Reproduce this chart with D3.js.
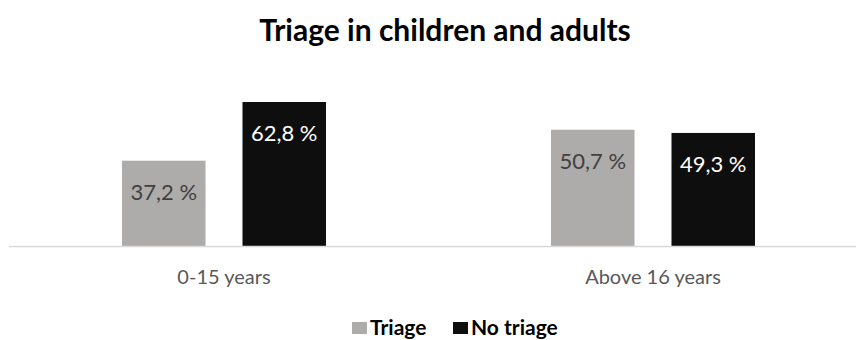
<!DOCTYPE html>
<html>
<head>
<meta charset="utf-8">
<script src="https://cdn.jsdelivr.net/npm/d3@7"></script>
<style>
  body { margin: 0; background: #fff; }
  text { font-family: Lato, "Open Sans", sans-serif; }
</style>
</head>
<body>
<div id="vis"></div>
<script>
// data
var categories = ["0-15 years", "Above 16 years"];
var series = ["Triage", "No triage"];
var triageValues = [37.2, 50.7];
var noTriageValues = [62.8, 49.3];
var labels = [["37,2 %", "62,8 %"], ["50,7 %", "49,3 %"]];

var colors = {"Triage": "#AEABAB", "No triage": "#0E0E0E"};
var labelColors = {"Triage": "#404040", "No triage": "#FFFFFF"};

var width = 856, height = 340;
var baseline = 246;

var svg = d3.select("#vis")
    .append("svg")
    .attr("width", width)
    .attr("height", height);

var table = categories.map(function(c, i) {
  return {
    category: c,
    values: [
      {series: "Triage", value: triageValues[i], label: labels[i][0]},
      {series: "No triage", value: noTriageValues[i], label: labels[i][1]}
    ]
  };
});

////////// scales //////////

var x0 = d3.scaleBand()
    .domain(categories)
    .range([9.5, 867.5]);

var x1 = d3.scaleBand()
    .domain(series)
    .range([0, x0.bandwidth()])
    .paddingInner(0.307)
    .paddingOuter(0.934);

var y = d3.scaleLinear()
    .domain([0, 70])
    .range([baseline, baseline - 70 * 2.293]);

////////// title //////////

svg.append("text")
    .attr("x", width / 2 + 17)
    .attr("y", 41)
    .attr("text-anchor", "middle")
    .attr("font-size", "30px")
    .attr("font-weight", "bold")
    .attr("fill", "#000")
    .text("Triage in children and adults");

////////// bars //////////

var groups = svg.selectAll(".group")
    .data(table)
    .enter()
    .append("g")
    .attr("class", "group")
    .attr("transform", function(d) { return "translate(" + x0(d.category) + ",0)"; });

groups.selectAll("rect")
    .data(function(d) { return d.values; })
    .enter()
    .append("rect")
    .attr("x", function(d) { return x1(d.series); })
    .attr("y", function(d) { return y(d.value); })
    .attr("width", x1.bandwidth())
    .attr("height", function(d) { return baseline - y(d.value); })
    .attr("fill", function(d) { return colors[d.series]; });

groups.selectAll(".value")
    .data(function(d) { return d.values; })
    .enter()
    .append("text")
    .attr("class", "value")
    .attr("x", function(d) { return x1(d.series) + x1.bandwidth() / 2; })
    .attr("y", function(d) { return y(d.value) + 39; })
    .attr("text-anchor", "middle")
    .attr("font-size", "22px")
    .attr("fill", function(d) { return labelColors[d.series]; })
    .text(function(d) { return d.label; });

// axis line
svg.append("line")
    .attr("x1", 9)
    .attr("x2", width)
    .attr("y1", baseline + 0.5)
    .attr("y2", baseline + 0.5)
    .attr("stroke", "#D9D9D9")
    .attr("stroke-width", 1.5);

// category labels
svg.selectAll(".cat")
    .data(categories)
    .enter()
    .append("text")
    .attr("class", "cat")
    .attr("x", function(d) { return x0(d) + x0.bandwidth() / 2; })
    .attr("y", 284)
    .attr("text-anchor", "middle")
    .attr("font-size", "20px")
    .attr("fill", "#595959")
    .text(function(d) { return d; });

////////// legend //////////

var legendX = {"Triage": 352, "No triage": 453};

var legend = svg.selectAll(".legend")
    .data(series)
    .enter()
    .append("g")
    .attr("class", "legend")
    .attr("transform", function(d) { return "translate(" + legendX[d] + ",322)"; });

legend.append("rect")
    .attr("width", 15)
    .attr("height", 12)
    .attr("fill", function(d) { return colors[d]; });

legend.append("text")
    .attr("x", 18)
    .attr("y", 13)
    .attr("font-size", "21px")
    .attr("font-weight", "bold")
    .attr("fill", "#000")
    .text(function(d) { return d; });
</script>
</body>
</html>
